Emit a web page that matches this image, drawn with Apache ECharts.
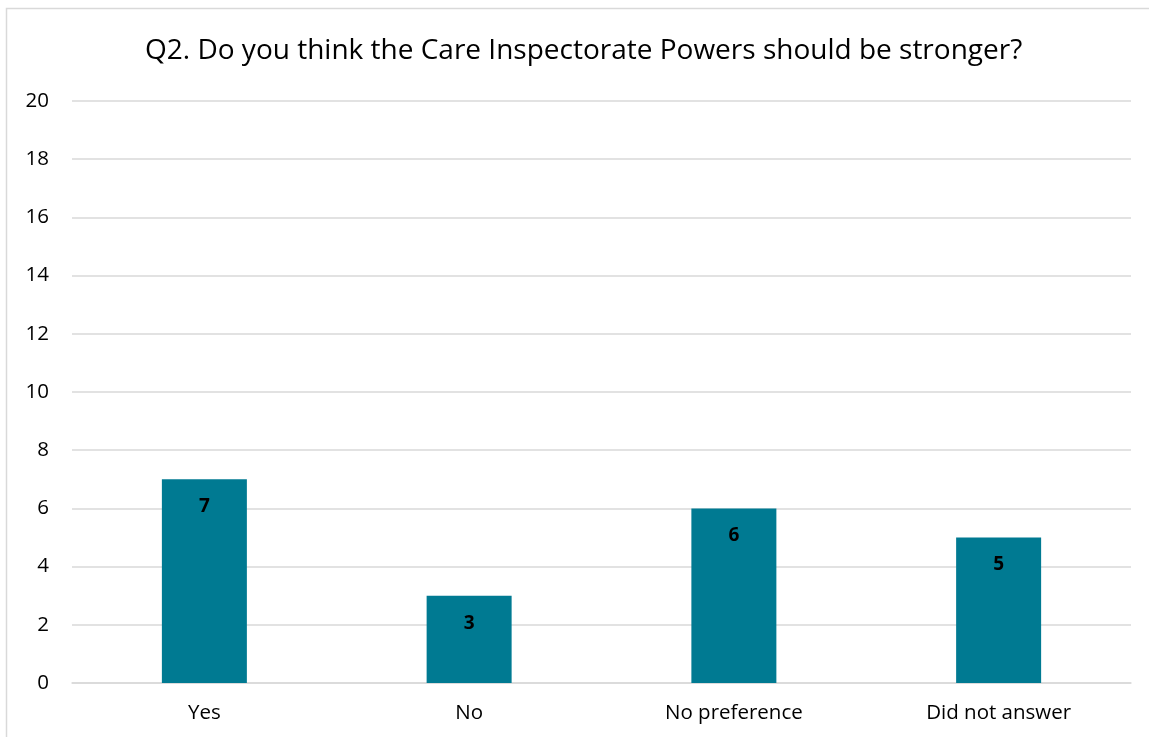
<!DOCTYPE html>
<html><head><meta charset="utf-8">
<script src="https://cdn.jsdelivr.net/npm/echarts@6/dist/echarts.min.js"></script>
<style>html,body{margin:0;padding:0;background:#fff}#c{width:1149px;height:737px}</style>
</head><body><div id="c"></div>
<script>
const categories = ["Yes", "No", "No preference", "Did not answer"];
const values = [7, 3, 6, 5];
const yTicks = [0, 2, 4, 6, 8, 10, 12, 14, 16, 18, 20];
const titleText = "Q2. Do you think the Care Inspectorate Powers should be stronger?";

const chart = echarts.init(document.getElementById('c'));
const font = "'Open Sans', 'Liberation Sans', sans-serif";
chart.setOption({
  animation: false,
  backgroundColor: '#fff',
  graphic: [{
    type: 'rect', shape: {x: 6.5, y: 8.5, width: 1160, height: 760},
    style: {fill: 'none', stroke: '#d9d9d9', lineWidth: 1.5}, silent: true
  }],
  title: {
    text: titleText, left: 145, top: 37, padding: 0,
    textStyle: {fontFamily: font, fontSize: 28, fontWeight: 'normal', color: '#000'}
  },
  grid: {left: 72, right: 18, top: 101, bottom: 54},
  xAxis: {
    type: 'category', data: categories,
    axisLine: {lineStyle: {color: '#d9d9d9', width: 1.5}},
    axisTick: {show: false},
    axisLabel: {fontFamily: font, fontSize: 20.5, color: '#000', margin: 20}
  },
  yAxis: {
    type: 'value', min: yTicks[0], max: yTicks[yTicks.length - 1], interval: 2,
    axisLine: {show: false}, axisTick: {show: false},
    splitLine: {lineStyle: {color: '#d9d9d9', width: 1.5}},
    axisLabel: {fontFamily: font, fontSize: 20.5, color: '#000', margin: 23, align: 'right'}
  },
  series: [{
    type: 'bar', data: values, barWidth: 85,
    itemStyle: {color: '#007A92'},
    label: {show: true, position: 'insideTop', distance: 18, fontFamily: font,
      fontSize: 19, fontWeight: 'bold', color: '#000'}
  }]
});
</script></body></html>
